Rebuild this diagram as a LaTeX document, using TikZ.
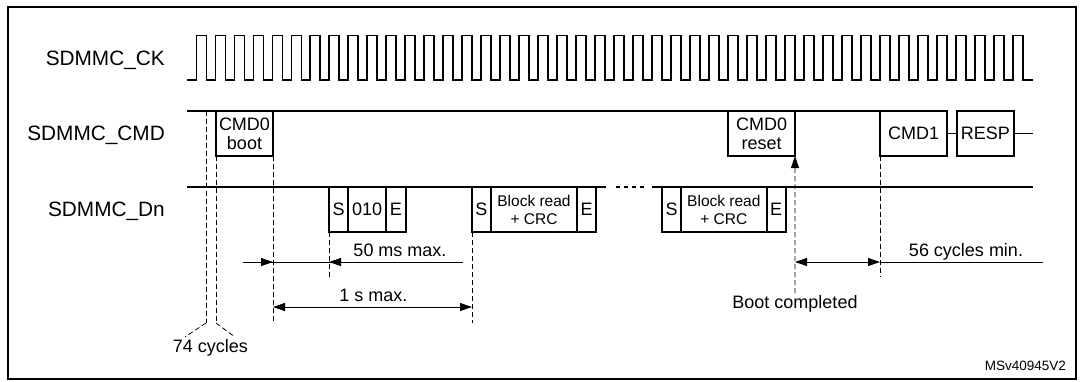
\documentclass[tikz,border=0pt]{standalone}
\usepackage{fontspec}
\setmainfont{Liberation Sans}
\usetikzlibrary{arrows.meta}
\begin{document}
\begin{tikzpicture}[x=1pt,y=-1pt,
  wave/.style={line width=1.8pt},
  box/.style={draw, line width=1.8pt, inner sep=0pt, outer sep=0pt, minimum height=45pt, align=center, font=\fontsize{18}{19}\selectfont},
  small/.style={font=\fontsize{15.5}{18}\selectfont},
  guide/.style={dash pattern=on 5pt off 3pt, line width=0.8pt},
  dim/.style={line width=0.9pt},
  >={Triangle[length=12pt,width=8pt]},
  lbl/.style={font=\fontsize{20.8}{22}\selectfont, anchor=base east, inner sep=0pt},
  ann/.style={font=\fontsize{18}{20}\selectfont, anchor=base, inner sep=0pt}]
\useasboundingbox (0,0) rectangle (1084,381);
% frame
\coordinate (fTL) at (8,7);
\coordinate (fBR) at (1076,379);
\draw[line width=1.4pt] (fTL) rectangle (fBR);
% labels
\node[lbl] (ck) at (165,65) {SDMMC\_CK};
\node[lbl] (cmd) at (165,140) {SDMMC\_CMD};
\node[lbl] (dn) at (165,216) {SDMMC\_Dn};
% clock
\draw[wave] (187,80) foreach \i in {0,...,43} { -- ({196.5+18.98*\i},80) -- ++(0,-44.5) -- ++(10,0) -- ++(0,44.5) } -- (1033,80);
% CMD line
\coordinate (cmdA) at (187,111);
\coordinate (cmdB) at (880,111);
\draw[wave] (cmdA) -- (cmdB);
\node[box, minimum width=57pt, fill=white] (boot) at (244.5,133.5) {CMD0\\boot};
\node[box, minimum width=66.7pt] (reset) at (761.65,133.5) {CMD0\\reset};
\node[box, minimum width=67.3pt] (cmd1) at (913.65,133.5) {CMD1};
\node[box, minimum width=57.3pt] (resp) at (985.35,133.5) {RESP};
\coordinate (cmdEnd) at (1033,133.5);
\draw[wave] (cmd1.east) -- (resp.west);
\draw[wave] (resp.east) -- (cmdEnd);
% Dn line
\coordinate (dnA) at (187,187);
\coordinate (dnB) at (606,187);
\coordinate (dotA) at (615.7,187);
\coordinate (dotB) at (645,187);
\coordinate (dnC) at (652,187);
\coordinate (dnD) at (1033,187);
\draw[wave] (dnA) -- (dnB);
\draw[line width=1.8pt, dash pattern=on 4pt off 4pt] (dotA) -- (dotB);
\draw[wave] (dnC) -- (dnD);
\node[box, minimum width=19.3pt] (s1) at (338.65,209.5) {S};
\node[box, minimum width=37.7pt] (d010) at (367.15,209.5) {010};
\node[box, minimum width=19.7pt] (e1) at (395.85,209.5) {E};
\node[box, minimum width=18.7pt] (s2) at (481.35,209.5) {S};
\node[box, minimum width=86.6pt, small] (br1) at (534,209.5) {Block read\\+ CRC};
\node[box, minimum width=18.4pt] (e2) at (586.5,209.5) {E};
\node[box, minimum width=18.7pt] (s3) at (671.65,209.5) {S};
\node[box, minimum width=85.7pt, small] (br2) at (723.85,209.5) {Block read\\+ CRC};
\node[box, minimum width=19pt] (e3) at (776.2,209.5) {E};
% guide rows
\coordinate (rowA) at (0,262);
\coordinate (rowB) at (0,307);
\coordinate (rowLow) at (0,323);
\coordinate (rowMid) at (0,277);
% dashed guides
\coordinate (g1t) at (206,111);
\coordinate (g1b) at (206,323);
\draw[guide] (g1t) -- (g1b);
\draw[guide] (boot.south west) -- (boot.south west |- rowLow);
\draw[guide] (boot.south east) -- (boot.south east |- rowLow);
\draw[guide] (s1.south west) -- (s1.south west |- rowMid);
\draw[guide] (s2.south west) -- (s2.south west |- rowLow);
\draw[guide] (cmd1.south west) -- (cmd1.south west |- rowMid);
\coordinate (bootc) at (795,293);
\draw[guide,->] (bootc) -- (reset.south east);
% 74 cycles pointers
\coordinate (p1) at (185,337);
\coordinate (p2) at (235,337);
\draw[guide] (g1b) -- (p1);
\draw[guide] (boot.south west |- rowLow) -- (p2);
% 50 ms
\coordinate (a50L) at (243,262);
\coordinate (a50R) at (463,262);
\draw[dim] (a50L) -- (a50R);
\draw[dim,->] (a50L) -- (boot.south east |- rowA);
\draw[dim,->] (a50R) -- (s1.south west |- rowA);
% 1 s
\draw[dim,<->] (boot.south east |- rowB) -- (s2.south west |- rowB);
% 56 cycles
\coordinate (a56R) at (1043,262);
\draw[dim,<->] (reset.south east |- rowA) -- (cmd1.south west |- rowA);
\draw[dim] (cmd1.south west |- rowA) -- (a56R);
% annotations
\node[ann] (t50) at (400,256.7) {50 ms max.};
\node[ann] (t1s) at (373.3,301.7) {1 s max.};
\node[ann] (t74) at (210.3,352.7) {74 cycles};
\node[ann] (t56) at (966,256.7) {56 cycles min.};
\node[ann] (tbc) at (795,308.3) {Boot completed};
\node[font=\fontsize{13.5}{15}\selectfont, anchor=base east, inner sep=0pt] (id) at (1066,370) {MSv40945V2};
\end{tikzpicture}
\end{document}
